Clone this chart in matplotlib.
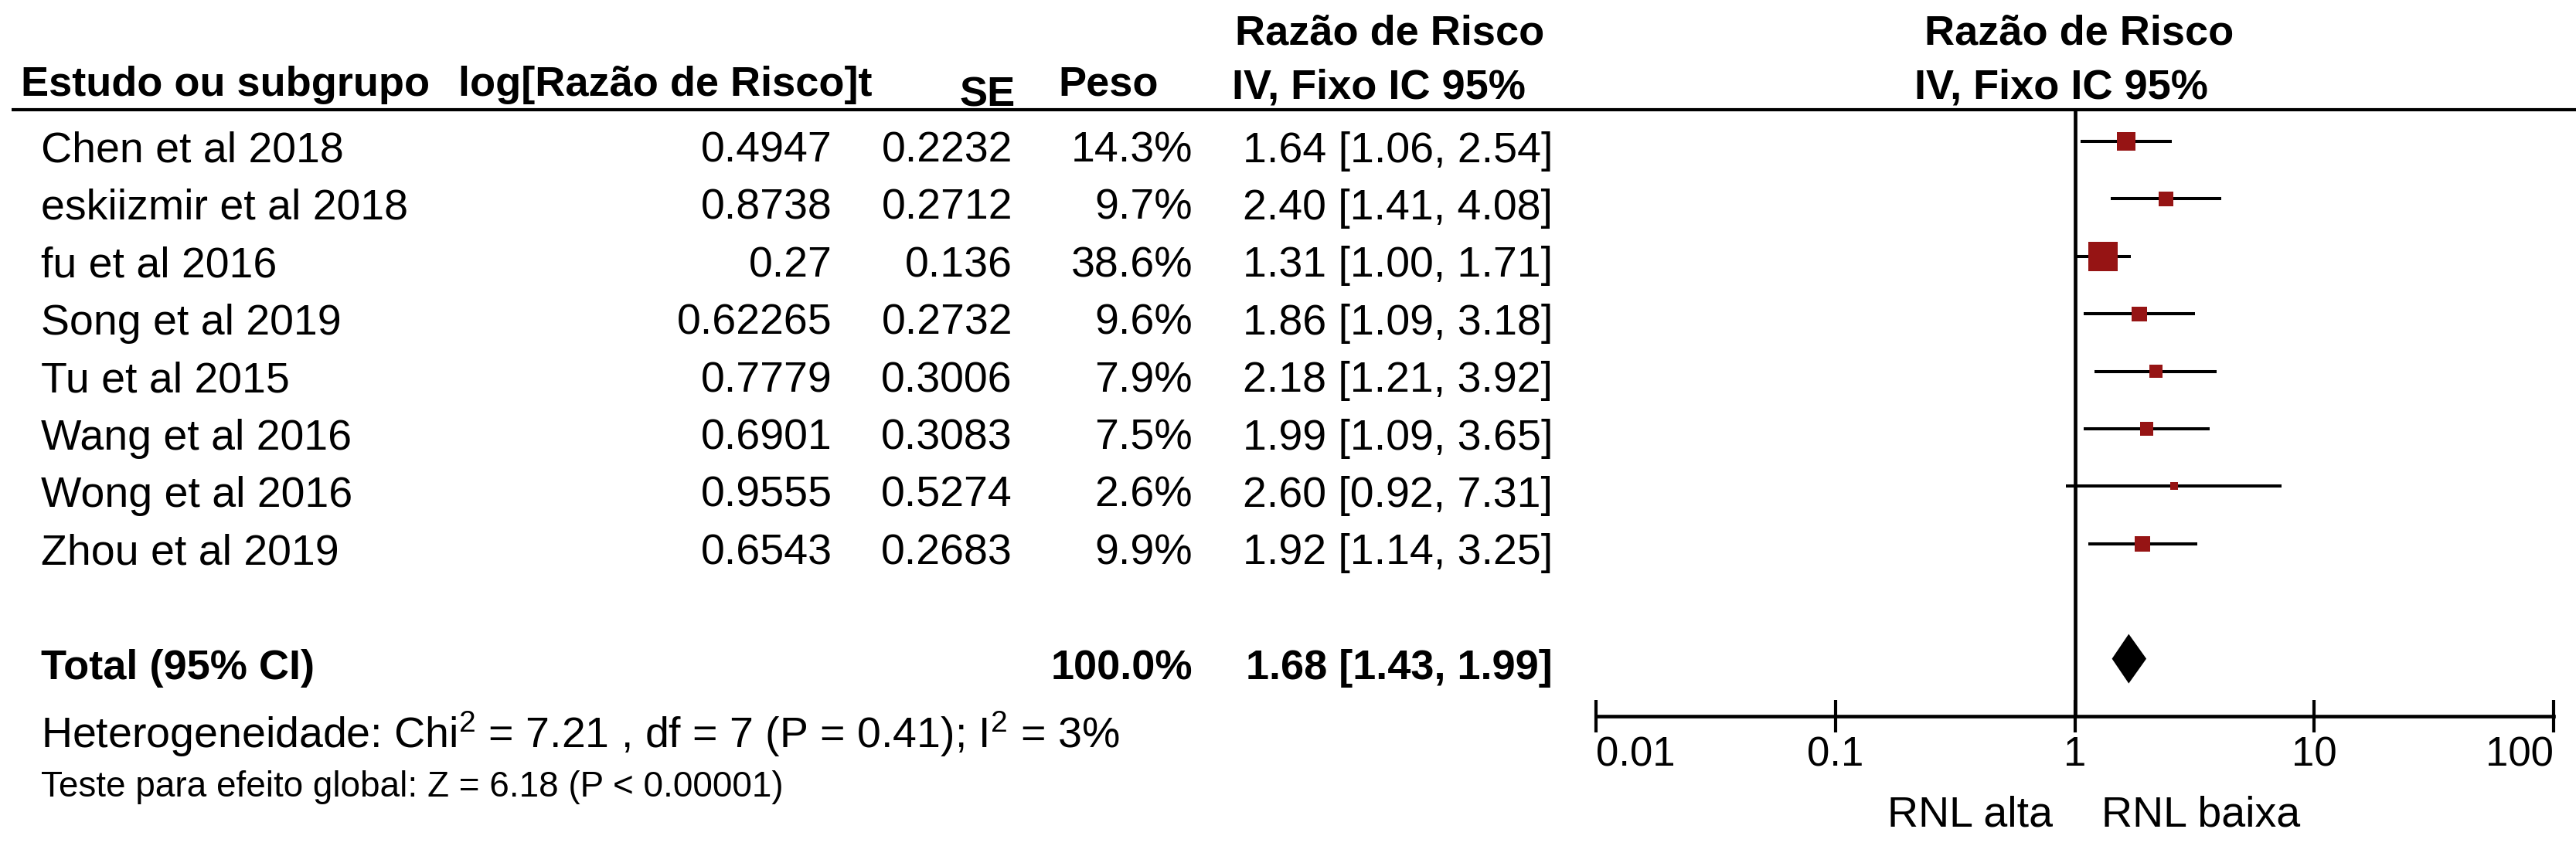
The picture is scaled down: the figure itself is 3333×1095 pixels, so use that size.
import matplotlib
matplotlib.use("Agg")
import matplotlib.pyplot as plt
from matplotlib.ticker import NullLocator

plt.rcParams["font.family"] = ["Liberation Sans", "DejaVu Sans"]
plt.rcParams["mathtext.fontset"] = "custom"
plt.rcParams["mathtext.rm"] = "Liberation Sans"

# ---- study data -------------------------------------------------------
studies = ["Chen et al 2018", "eskiizmir et al 2018", "fu et al 2016",
           "Song et al 2019", "Tu et al 2015", "Wang et al 2016",
           "Wong et al 2016", "Zhou et al 2019"]
log_rr = [0.4947, 0.8738, 0.27, 0.62265, 0.7779, 0.6901, 0.9555, 0.6543]
se = [0.2232, 0.2712, 0.136, 0.2732, 0.3006, 0.3083, 0.5274, 0.2683]
weight = [14.3, 9.7, 38.6, 9.6, 7.9, 7.5, 2.6, 9.9]
rr = [1.64, 2.40, 1.31, 1.86, 2.18, 1.99, 2.60, 1.92]
ci_low = [1.06, 1.41, 1.00, 1.09, 1.21, 1.09, 0.92, 1.14]
ci_high = [2.54, 4.08, 1.71, 3.18, 3.92, 3.65, 7.31, 3.25]

total_weight = 100.0
total_rr = 1.68
total_low = 1.43
total_high = 1.99

heterogeneity = ("Heterogeneidade: Chi$\\mathregular{^2}$ = 7.21 , df = 7 "
                 "(P = 0.41); I$\\mathregular{^2}$ = 3%")
overall_test = "Teste para efeito global: Z = 6.18 (P < 0.00001)"

tick_values = [0.01, 0.1, 1, 10, 100]
tick_labels = ["0.01", "0.1", "1", "10", "100"]
favours_left = "RNL alta"
favours_right = "RNL baixa"

# ---- layout (pixel units of the 3333 x 1095 canvas) -------------------
W, H = 3333, 1095
TEXT_ROW0, ROW_STEP = 195.5, 74.4
MARK_ROW0 = 183.0
TOTAL_ROW = 9
PLOT_X0, PLOT_X1 = 2065, 3304
PLOT_TOP, PLOT_BOTTOM = 142, 927
MARKER_RED = "#961414"

fig = plt.figure(figsize=(W / 100, H / 100), dpi=100)
fig.patch.set_facecolor("white")

tab = fig.add_axes([0, 0, 1, 1])
tab.set_xlim(0, W)
tab.set_ylim(H, 0)
tab.axis("off")

bold = dict(fontsize=39, fontweight="bold", color="black")
reg = dict(fontsize=40, color="black")

# column headers
tab.text(1798, 58, "Razão de Risco", ha="center", va="baseline", **bold)
tab.text(2690, 58, "Razão de Risco", ha="center", va="baseline", **bold)
tab.text(27, 124, "Estudo ou subgrupo", ha="left", va="baseline", **bold)
tab.text(593, 124, "log[Razão de Risco]t", ha="left", va="baseline", **bold)
tab.text(1314, 137, "SE", ha="right", va="baseline", **bold)
tab.text(1499, 124, "Peso", ha="right", va="baseline", **bold)
tab.text(1594, 128, "IV, Fixo IC 95%", ha="left", va="baseline", **bold)
tab.text(2667, 128, "IV, Fixo IC 95%", ha="center", va="baseline", **bold)
tab.plot([15, W], [142, 142], color="black", lw=3, solid_capstyle="butt")

# study rows
for i, name in enumerate(studies):
    y = TEXT_ROW0 + i * ROW_STEP
    tab.text(53, y, name, ha="left", va="center", **reg)
    tab.text(1077, y, str(log_rr[i]), ha="right", va="center", **reg)
    tab.text(1310, y, str(se[i]), ha="right", va="center", **reg)
    tab.text(1543, y, f"{weight[i]:.1f}%", ha="right", va="center", **reg)
    tab.text(2009, y, f"{rr[i]:.2f} [{ci_low[i]:.2f}, {ci_high[i]:.2f}]",
             ha="right", va="center", **reg)

# pooled row and statistics
y_tot = TEXT_ROW0 + TOTAL_ROW * ROW_STEP
tab.text(53, y_tot, "Total (95% CI)", ha="left", va="center", **bold)
tab.text(1543, y_tot, f"{total_weight:.1f}%", ha="right", va="center", **bold)
tab.text(2009, y_tot, f"{total_rr:.2f} [{total_low:.2f}, {total_high:.2f}]",
         ha="right", va="center", **bold)
tab.text(53, 950, heterogeneity, ha="left", va="center", fontsize=40)
tab.text(53, 1019, overall_test, ha="left", va="center", fontsize=33)

tab.text(2656, 1056, favours_left, ha="right", va="center", fontsize=40)
tab.text(2719, 1056, favours_right, ha="left", va="center", fontsize=40)

# ---- forest plot --------------------------------------------------------
fax = fig.add_axes([PLOT_X0 / W, 1 - PLOT_BOTTOM / H,
                    (PLOT_X1 - PLOT_X0) / W, (PLOT_BOTTOM - PLOT_TOP) / H])
fax.set_xscale("log")
fax.set_xlim(tick_values[0], tick_values[-1])
fax.set_ylim((PLOT_BOTTOM - MARK_ROW0) / ROW_STEP, (PLOT_TOP - MARK_ROW0) / ROW_STEP)
fax.patch.set_alpha(0)

rows = list(range(len(studies)))
fax.axvline(1, color="black", lw=3.4, zorder=1)
fax.hlines(rows, ci_low, ci_high, color="black", lw=2.9, zorder=2)
fax.scatter(rr, rows, marker="s", s=[20.0 * w for w in weight],
            color=MARKER_RED, linewidths=0, zorder=3)

half_h = 32 / ROW_STEP
fax.fill([total_low, total_rr, total_high, total_rr],
         [TOTAL_ROW, TOTAL_ROW - half_h, TOTAL_ROW, TOTAL_ROW + half_h],
         color="black", lw=0, zorder=3)

for side in ("top", "left", "right"):
    fax.spines[side].set_visible(False)
fax.spines["bottom"].set_linewidth(3.3)
fax.set_yticks([])
fax.set_xticks(tick_values)
fax.set_xticklabels(tick_labels)
fax.xaxis.set_minor_locator(NullLocator())
fax.tick_params(axis="x", direction="inout", length=30, width=3,
                pad=3, labelsize=38)
labels = fax.get_xticklabels()
labels[0].set_ha("left")
labels[-1].set_ha("right")

fig.savefig("out.png", dpi=100, facecolor="white")
